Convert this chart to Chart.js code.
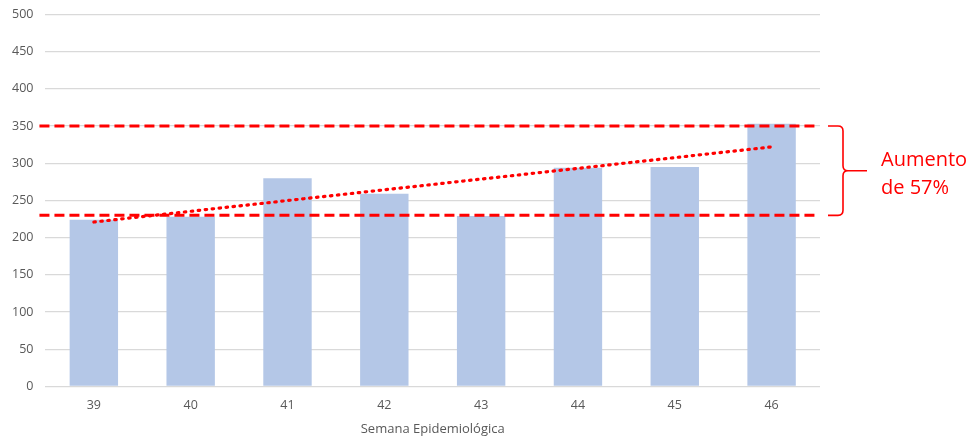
<!DOCTYPE html>
<html>
<head>
<meta charset="utf-8">
<script src="https://cdn.jsdelivr.net/npm/chart.js@4"></script>
<style>
html,body{margin:0;padding:0;background:#fff;overflow:hidden;}
#wrap{width:971px;height:439px;position:relative;overflow:hidden;}
#c{position:absolute;left:0;top:-5px;}
</style>
</head>
<body>
<div id="wrap"><canvas id="c" width="971" height="444"></canvas></div>
<script>
const categories = ['39','40','41','42','43','44','45','46'];
const casos = [224, 228, 280, 259, 229, 294, 295, 353];
const tendencia = [221, null, null, null, null, null, null, 322];
const limites = [350, 230];
const anotacion = ['Aumento', 'de 57%'];
const ejeX = 'Semana Epidemiológica';

const annotPlugin = {
  id: 'annot',
  afterDatasetsDraw(chart) {
    const ctx = chart.ctx;
    const y = chart.scales.y;
    const a = chart.chartArea;
    const yTop = y.getPixelForValue(limites[0]);
    const yBot = y.getPixelForValue(limites[1]);
    ctx.save();
    ctx.strokeStyle = '#ff0000';
    ctx.lineWidth = 3;
    ctx.setLineDash([10, 5]);
    [yTop, yBot].forEach(py => {
      ctx.beginPath();
      ctx.moveTo(a.left - 6, py);
      ctx.lineTo(a.right - 2, py);
      ctx.stroke();
    });
    // brace
    ctx.setLineDash([]);
    ctx.lineWidth = 1.6;
    const x0 = a.right + 8, xm = a.right + 23, r = 5;
    const ym = (yTop + yBot) / 2;
    ctx.beginPath();
    ctx.moveTo(x0, yTop);
    ctx.lineTo(xm - r, yTop);
    ctx.quadraticCurveTo(xm, yTop, xm, yTop + r);
    ctx.lineTo(xm, ym - r);
    ctx.quadraticCurveTo(xm, ym, xm + r, ym);
    ctx.lineTo(xm + 24, ym);
    ctx.moveTo(xm + r, ym);
    ctx.quadraticCurveTo(xm, ym, xm, ym + r);
    ctx.lineTo(xm, yBot - r);
    ctx.quadraticCurveTo(xm, yBot, xm - r, yBot);
    ctx.lineTo(x0, yBot);
    ctx.stroke();
    ctx.fillStyle = '#ff0000';
    ctx.font = '20px "Open Sans", sans-serif';
    ctx.textBaseline = 'alphabetic';
    ctx.textAlign = 'left';
    ctx.fillText(anotacion[0], a.right + 61, ym - 5);
    ctx.fillText(anotacion[1], a.right + 61, ym + 23);
    ctx.restore();
  }
};

new Chart(document.getElementById('c'), {
  data: {
    labels: categories,
    datasets: [
      {
        type: 'line',
        data: tendencia,
        spanGaps: true,
        borderColor: '#ff0000',
        borderWidth: 3.2,
        borderDash: [1.5, 5.5],
        borderCapStyle: 'round',
        pointRadius: 0,
        fill: false,
        order: 0
      },
      {
        type: 'bar',
        data: casos,
        backgroundColor: '#b4c7e7',
        barPercentage: 0.5,
        categoryPercentage: 1.0,
        order: 1
      }
    ]
  },
  options: {
    responsive: false,
    animation: false,
    devicePixelRatio: 1,
    layout: { padding: { top: 0, right: 151, left: 0, bottom: 2 } },
    plugins: { legend: { display: false }, tooltip: { enabled: false } },
    scales: {
      x: {
        grid: { display: false },
        border: { display: false },
        ticks: { color: '#595959', font: { family: '"Open Sans", sans-serif', size: 12.5 }, padding: 4 },
        title: { display: true, text: ejeX, color: '#595959', font: { family: '"Open Sans", sans-serif', size: 13 }, padding: { top: 4, bottom: 0 } }
      },
      y: {
        min: 0, max: 500,
        ticks: { stepSize: 50, color: '#595959', font: { family: '"Open Sans", sans-serif', size: 12.5 }, padding: 12 },
        grid: { color: '#d9d9d9', lineWidth: 1.3, drawTicks: false },
        border: { display: false }
      }
    }
  },
  plugins: [annotPlugin]
});
</script>
</body>
</html>
